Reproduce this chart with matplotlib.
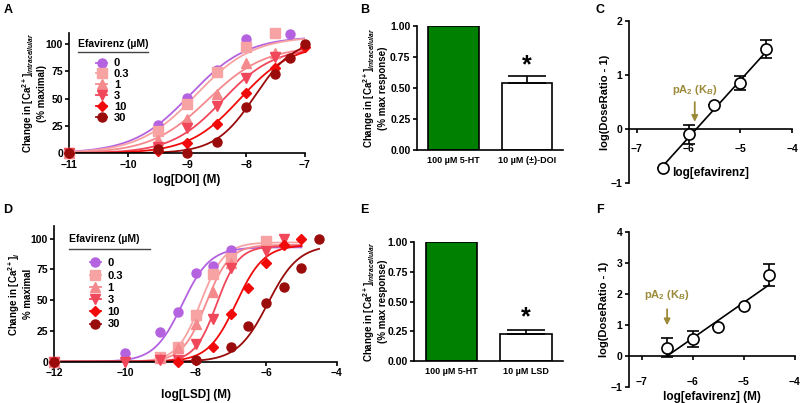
import numpy as np
import matplotlib
matplotlib.use('Agg')
import matplotlib.pyplot as plt
from matplotlib.lines import Line2D

plt.rcParams['font.family'] = ['Liberation Sans', 'DejaVu Sans']
plt.rcParams['font.weight'] = 'bold'
plt.rcParams['font.size'] = 8
plt.rcParams['mathtext.fontset'] = 'custom'
plt.rcParams['mathtext.rm'] = 'Liberation Sans:bold'
plt.rcParams['mathtext.it'] = 'Liberation Sans:bold:italic'
plt.rcParams['mathtext.bf'] = 'Liberation Sans:bold'
plt.rcParams['axes.linewidth'] = 1.2

# ---- data ----
efv_labels = ['0', '0.3', '1', '3', '10', '30']
efv_colors = ['#b462e0', '#f7a3a3', '#f58a8e', '#f0475a', '#f00a0a', '#9a0c0c']
efv_markers = ['o', 's', '^', 'v', 'D', 'o']

# panel A: log[DOI] responses
doi_x = [[-11, -9.5, -9, -8.5, -8, -7.25],
         [-11, -9.5, -9, -8.5, -8, -7.5],
         [-11, -9.5, -9, -8.5, -8, -7.5],
         [-11, -9.5, -9, -8.5, -8, -7.5],
         [-11, -9.5, -9, -8.5, -8, -7.5, -7],
         [-11, -9.5, -9, -8.5, -8, -7.5, -7.25, -7]]
doi_y = [[0, 26, 51, 76, 105, 109],
         [0, 20, 45, 74, 97, 110],
         [0, 12, 31, 54, 83, 92],
         [0, 6, 23, 43, 69, 88],
         [0, 2, 9, 27, 55, 78, 97],
         [0, 4, 0, 10, 42, 73, 87, 100]]
doi_top = [107, 107, 98, 97, 100, 105]
doi_logec50 = [-8.95, -8.85, -8.65, -8.4, -8.1, -7.85]
doi_hill = [0.9, 0.9, 0.9, 1.0, 1.0, 1.3]

# panel D: log[LSD] responses
lsd_x = [[-12, -10, -9, -8.5, -8, -7.5, -7],
         [-12, -9, -8.5, -8, -7.5, -7, -6],
         [-12, -9, -8.5, -8, -7.5, -7],
         [-12, -10, -9, -8.5, -8, -7.5, -7, -6, -5.5],
         [-12, -8.5, -8, -7.5, -7, -6.5, -6, -5.5, -5],
         [-12, -8, -7, -6.5, -6, -5.5, -5, -4.5]]
lsd_y = [[0, 7, 24, 40, 72, 78, 91],
         [0, 4, 12, 38, 71, 84, 98],
         [0, 3, 11, 31, 57, 80],
         [0, 0, 1, 1, 14, 35, 76, 90, 100],
         [0, 0, 1, 12, 39, 60, 80, 95, 100],
         [0, 1, 12, 29, 48, 61, 76, 100]]
lsd_top = [93, 97, 95, 94, 95, 95]
lsd_logec50 = [-8.38, -7.85, -7.7, -7.4, -6.85, -5.95]
lsd_hill = [1.1, 1.3, 1.3, 1.4, 1.1, 1.0]
lsd_curve_end = [-5, -5, -5, -5, -5, -4.5]

# panels B / E: bars
bar_labels_b = ['100 \u00b5M 5-HT', '10 \u00b5M (\u00b1)-DOI']
bar_vals_b = [1.0, 0.54]
bar_err_b = [0, 0.06]
bar_labels_e = ['100 \u00b5M 5-HT', '10 \u00b5M LSD']
bar_vals_e = [1.0, 0.23]
bar_err_e = [0, 0.03]

# panels C / F: Schild plots
schild_x_c = [-6.5, -6, -5.5, -5, -4.5]
schild_y_c = [-0.72, -0.1, 0.45, 0.85, 1.48]
schild_err_c = [0, 0.18, 0, 0.13, 0.17]
slope_c, xint_c = 1.06, -5.85

schild_x_f = [-6.5, -6, -5.5, -5, -4.5]
schild_y_f = [0.27, 0.55, 0.95, 1.62, 2.62]
schild_err_f = [0.3, 0.27, 0, 0, 0.35]
slope_f, xint_f = 1.15, -6.5

arrow_col = '#9c8a3a'


def hill(x, top, logec50, h):
    return top / (1 + 10 ** ((logec50 - x) * h))


def style(ax):
    ax.spines['top'].set_visible(False)
    ax.spines['right'].set_visible(False)
    ax.tick_params(width=1.2, length=3, pad=1.5, labelsize=7.5)
    for t in ax.get_xticklabels() + ax.get_yticklabels():
        t.set_fontweight('bold')


fig = plt.figure(figsize=(8, 4.03), dpi=100)

ca_label = 'Change in [Ca$^{2+}$]$_{\\mathit{intracellular}}$'


def conc_panel(ax, xs, ys, tops, ecs, hs, x0, ends, xlabel, ylabel, ylabel_x, leg_pos, leg_space):
    for i in range(6):
        xx = np.linspace(x0, ends[i], 200)
        ax.plot(xx, hill(xx, tops[i], ecs[i], hs[i]), color=efv_colors[i], lw=1.3, zorder=2)
        ax.plot(xs[i], ys[i], linestyle='none', marker=efv_markers[i], color=efv_colors[i],
                ms=6.5 if efv_markers[i] != 'D' else 5.5, clip_on=False, zorder=3)
    ax.set_ylim(0, 110)
    ax.set_yticks([0, 25, 50, 75, 100])
    ax.set_xlabel(xlabel, fontsize=8.5, fontweight='bold', labelpad=3)
    ax.set_ylabel(ylabel, fontsize=7, fontweight='bold', linespacing=1.15)
    ax.yaxis.set_label_coords(ylabel_x, 0.5)
    style(ax)
    handles = [Line2D([], [], color=efv_colors[i], marker=efv_markers[i], lw=1.3,
                      ms=6.5 if efv_markers[i] != 'D' else 5.5) for i in range(6)]
    ax.legend(handles, efv_labels, loc='upper left', bbox_to_anchor=leg_pos, frameon=False,
              handlelength=1.0, handletextpad=0.6, labelspacing=leg_space, borderpad=0,
              prop={'weight': 'bold', 'size': 8})


# ---- A ----
axA = fig.add_axes([0.0866, 0.6196, 0.2946, 0.2983])
conc_panel(axA, doi_x, doi_y, doi_top, doi_logec50, doi_hill, -11, [-7] * 6,
           'log[DOI] (M)', ca_label + '\n(% maximal)', -0.094, (0.09, 0.835), 0.08)
axA.set_xlim(-11, -7)
axA.set_xticks([-11, -10, -9, -8, -7])
axA.text(0.035, 0.91, 'Efavirenz (\u00b5M)', transform=axA.transAxes, fontsize=7.5,
         fontweight='bold', va='center')
axA.plot([0.035, 0.335], [0.84, 0.84], transform=axA.transAxes, color='#444444', lw=1)

# ---- D ----
axD = fig.add_axes([0.0679, 0.1025, 0.353, 0.3357])
conc_panel(axD, lsd_x, lsd_y, lsd_top, lsd_logec50, lsd_hill, -12, lsd_curve_end,
           'log[LSD] (M)', 'Change in [Ca$^{2+}$]$_{i}$\n% maximal', -0.075, (0.105, 0.805), 0.2)
axD.set_xlim(-12, -4)
axD.set_xticks([-12, -10, -8, -6, -4])
axD.xaxis.labelpad = 8
axD.text(0.052, 0.909, 'Efavirenz (\u00b5M)', transform=axD.transAxes, fontsize=7.5,
         fontweight='bold', va='center')
axD.plot([0.052, 0.34], [0.83, 0.83], transform=axD.transAxes, color='#444444', lw=1)


# ---- bars ----
def bar_panel(ax, labels, vals, errs, star_y, ylabel_x):
    pos = np.arange(len(vals))
    ax.bar(pos, vals, width=0.69, color=['#008000', 'white'], edgecolor='black', lw=1.2, zorder=2)
    ax.errorbar(pos[1:], vals[1:], yerr=[[0], errs[1:]], fmt='none', ecolor='black',
                elinewidth=1.2, capsize=14, capthick=1.2, zorder=3)
    ax.text(pos[1], star_y, '*', ha='center', va='center', fontsize=18, fontweight='bold')
    ax.set_xlim(-0.5, 1.49)
    ax.set_ylim(0, 1.0)
    ax.set_yticks([0, 0.25, 0.5, 0.75, 1.0])
    ax.set_yticklabels(['0.00', '0.25', '0.50', '0.75', '1.00'])
    ax.set_xticks(pos)
    ax.set_xticklabels(labels)
    style(ax)
    ax.tick_params(axis='x', length=0, labelsize=6.5, pad=4)
    ax.set_ylabel(ca_label + '\n(% max response)', fontsize=7, fontweight='bold', linespacing=1.15)
    ax.yaxis.set_label_coords(ylabel_x, 0.5)


axB = fig.add_axes([0.5209, 0.6278, 0.183, 0.3077])
bar_panel(axB, bar_labels_b, bar_vals_b, bar_err_b, 0.68, -0.197)
axE = fig.add_axes([0.5175, 0.1042, 0.186, 0.2953])
bar_panel(axE, bar_labels_e, bar_vals_e, bar_err_e, 0.37, -0.175)


# ---- schild ----
def schild_panel(ax, xs, ys, errs, slope, xint, arrow_x, txt_y, a_top, a_tip, tick_pad):
    xx = np.linspace(xs[0], xs[-1], 50)
    ax.plot(xx, slope * (xx - xint), color='black', lw=1.2, zorder=2)
    ax.errorbar(xs, ys, yerr=errs, fmt='o', color='black', mfc='white', mec='black', ms=8,
                mew=1.2, elinewidth=1.2, capsize=4, capthick=1.2, zorder=3)
    ax.spines['bottom'].set_position(('data', 0))
    ax.set_xticks([-7, -6, -5, -4])
    style(ax)
    ax.tick_params(axis='x', pad=tick_pad)
    ax.set_ylabel('log(DoseRatio - 1)', fontsize=8, fontweight='bold')
    ax.yaxis.set_label_coords(-0.117, 0.5)
    ax.annotate('', xy=(arrow_x, a_tip), xytext=(arrow_x, a_top),
                arrowprops=dict(arrowstyle='-|>', color=arrow_col, lw=1.3, mutation_scale=9))
    ax.text(arrow_x, txt_y, 'pA$_{2}$ (K$_{B}$)', color=arrow_col, ha='center', va='center',
            fontsize=8)


axC = fig.add_axes([0.786, 0.5459, 0.204, 0.402])
axC.set_xlim(-7.155, -4)
axC.set_ylim(-1, 2)
axC.set_yticks([-1, 0, 1, 2])
schild_panel(axC, schild_x_c, schild_y_c, schild_err_c, slope_c, xint_c, -5.88, 0.72, 0.55, 0.08, 8)
axC.text(0.5, 0.06, 'log[efavirenz]', transform=axC.transAxes, ha='center', va='center',
         fontsize=8.5, fontweight='bold')

axF = fig.add_axes([0.786, 0.0397, 0.2075, 0.3846])
axF.set_xlim(-7.25, -4)
axF.set_ylim(-1, 4)
axF.set_yticks([-1, 0, 1, 2, 3, 4])
schild_panel(axF, schild_x_f, schild_y_f, schild_err_f, slope_f, xint_f, -6.5, 1.97, 1.6, 0.9, 12)
axF.text(0.5, -0.065, 'log[efavirenz] (M)', transform=axF.transAxes, ha='center', va='center',
         fontsize=8.5, fontweight='bold')

# panel letters
for lab, x, y in [('A', 0.004, 0.975), ('B', 0.45, 0.975), ('C', 0.745, 0.975),
                  ('D', 0.004, 0.48), ('E', 0.45, 0.48), ('F', 0.745, 0.48)]:
    fig.text(x, y, lab, fontsize=9, fontweight='bold', va='center')

fig.savefig('out.png', dpi=100)
